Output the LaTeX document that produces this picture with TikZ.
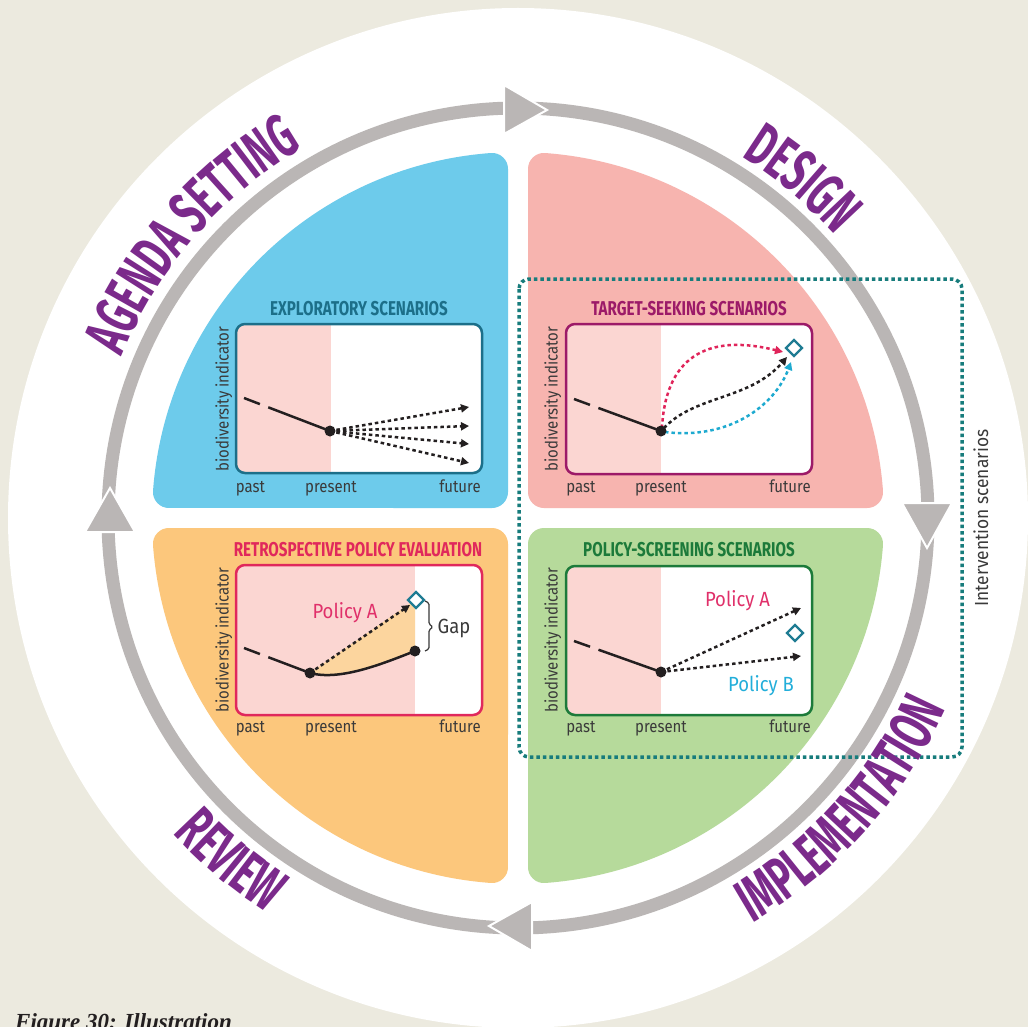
\documentclass[tikz,border=0pt]{standalone}
\usepackage{fontspec}
\usetikzlibrary{arrows.meta,decorations.text,calc}
\newfontfamily\sansreg[FakeStretch=0.88]{Fira Sans}
\newfontfamily\sanspol[FakeStretch=0.9]{Fira Sans}
\newfontfamily\sansint[FakeStretch=0.92]{Fira Sans}
\newfontfamily\sanstitle[FakeStretch=0.757]{Fira Sans}
\newfontfamily\sansbig[FakeStretch=0.6]{Fira Sans}
\newfontfamily\capserif{Liberation Serif}
\newcommand\axisf{\sansreg\fontsize{17pt}{17pt}\selectfont}
\newcommand\intf{\sansint\fontsize{18.9pt}{18.9pt}\selectfont}
\newcommand\titlef{\sanstitle\bfseries\fontsize{20pt}{20pt}\selectfont}
\newcommand\polf{\sanspol\fontsize{20.5pt}{20.5pt}\selectfont}
\newcommand\bigf{\sansbig\bfseries\fontsize{61pt}{61pt}\selectfont}
\definecolor{bgbeige}{HTML}{ECEADF}
\definecolor{qblue}{HTML}{6DCBEB}
\definecolor{qpink}{HTML}{F7B4AF}
\definecolor{qorange}{HTML}{FCC77C}
\definecolor{qgreen}{HTML}{B6DA9B}
\definecolor{pastpink}{HTML}{FBD6D2}
\definecolor{lightorange}{HTML}{FCD59E}
\definecolor{ringgray}{HTML}{BAB6B5}
\definecolor{labpurple}{HTML}{7B2A8B}
\definecolor{cexp}{HTML}{1C6F89}
\definecolor{ctarget}{HTML}{9C1A68}
\definecolor{cretro}{HTML}{E0285C}
\definecolor{cscreen}{HTML}{1C7A3A}
\definecolor{boxteal}{HTML}{177C7C}
\definecolor{diamteal}{HTML}{1F7C93}
\definecolor{polA}{HTML}{E0306A}
\definecolor{polB}{HTML}{22AEDA}
\definecolor{curvered}{HTML}{E0245A}
\definecolor{curvecyan}{HTML}{1EAAD0}
\definecolor{ink}{HTML}{231F20}
\definecolor{axisgray}{HTML}{3A3A3A}
\begin{document}
\begin{tikzpicture}[x=1pt,y=1pt,
  quad/.style={line width=32pt,line join=round},
  ringarrow/.style={fill=ringgray,draw=white,line width=2pt,line join=miter},
  chartbox/.style={rounded corners=9pt,line width=2.5pt},
  histline/.style={ink,line width=2.5pt,dash pattern=on 17pt off 9pt on 300pt off 1pt},
  dotarrow/.style={ink,line width=2.5pt,dash pattern=on 3.5pt off 3pt,-{Triangle[length=8pt,width=8pt]}},
  dotdot/.style={ink},
  diam/.style={draw=diamteal,fill=white,line width=2.3pt,line join=miter},
  axislab/.style={font=\axisf,text=axisgray,anchor=base,inner sep=0pt},
  indlab/.style={font=\axisf,text=axisgray,anchor=base,rotate=90,inner sep=0pt},
  ptitle/.style={font=\titlef,anchor=base,inner sep=0pt},
  pollab/.style={font=\polf,anchor=base,inner sep=0pt},
  biglab/.style={decorate,decoration={text along path,text={#1},text align=center,text color=labpurple}}
]
\useasboundingbox (0,0) rectangle (1028,-1027);
\fill[bgbeige] (0,0) rectangle (1028,-1027);
\coordinate (C) at (518,-518);
\fill[white] (C) circle[radius=510];

% quadrants
\filldraw[quad,fill=qblue,draw=qblue] (492,-492) -- (492,-168.97) arc[start angle=94.26,end angle=175.74,radius=350] -- cycle;
\filldraw[quad,fill=qpink,draw=qpink] (544,-492) -- (867.03,-492) arc[start angle=4.26,end angle=85.74,radius=350] -- cycle;
\filldraw[quad,fill=qorange,draw=qorange] (492,-544) -- (168.97,-544) arc[start angle=184.26,end angle=265.74,radius=350] -- cycle;
\filldraw[quad,fill=qgreen,draw=qgreen] (544,-544) -- (544,-867.03) arc[start angle=274.26,end angle=355.74,radius=350] -- cycle;

% ring and arrowheads
\draw[ringgray,line width=13pt] (C) circle[radius=410];
\draw[ringarrow] (504,-85) -- (547,-110) -- (504,-134) -- cycle;
\draw[ringarrow] (85,-532) -- (110,-488) -- (135,-532) -- cycle;
\draw[ringarrow] (902,-503) -- (927,-548) -- (952,-503) -- cycle;
\draw[ringarrow] (532,-902) -- (489,-926) -- (532,-951) -- cycle;

% ===== Exploratory =====
\fill[white,rounded corners=9pt] (236,-324) rectangle (482,-473);
\begin{scope}
\clip[rounded corners=9pt] (236,-324) rectangle (482,-473);
\fill[pastpink] (236,-324) rectangle (331,-473);
\end{scope}
\draw[chartbox,draw=cexp] (236,-324) rectangle (482,-473);
\node[ptitle,text=cexp] (t1) at (359,-315) {EXPLORATORY SCENARIOS};
\coordinate (e0) at (244,-398);
\coordinate (ed) at (330,-431);
\coordinate (ea1) at (469,-407);
\coordinate (ea2) at (469,-426);
\coordinate (ea3) at (469,-444);
\coordinate (ea4) at (469,-463);
\draw[histline] (e0) -- (ed);
\foreach \e in {ea1,ea2,ea3,ea4} \draw[dotarrow] (ed) -- (\e);
\fill[dotdot] (ed) circle[radius=5.5];
\node[indlab] (i1) at (228.5,-399) {biodiversity indicator};
\node[axislab] (p1) at (250.5,-492.7) {past};
\node[axislab] (q1) at (331,-492.7) {present};
\node[axislab] (f1) at (460,-492.7) {future};

% ===== Target-seeking =====
\fill[white,rounded corners=9pt] (566,-324) rectangle (812,-474);
\begin{scope}
\clip[rounded corners=9pt] (566,-324) rectangle (812,-474);
\fill[pastpink] (566,-324) rectangle (661,-474);
\end{scope}
\draw[chartbox,draw=ctarget] (566,-324) rectangle (812,-474);
\node[ptitle,text=ctarget] (t2) at (689,-315) {TARGET-SEEKING SCENARIOS};
\coordinate (s0) at (574,-399);
\coordinate (sd) at (661,-431);
\coordinate (sr) at (783,-352);
\coordinate (sk) at (787,-357);
\coordinate (sc) at (791,-362);
\draw[histline] (s0) -- (sd);
\draw[dotarrow,curvered,-{Triangle[length=8pt,width=8pt,fill=curvered]}] (662,-428) .. controls (666,-350) and (715,-335) .. (sr);
\draw[dotarrow,curvecyan,-{Triangle[length=8pt,width=8pt,fill=curvecyan]}] (665,-432) .. controls (730,-440) and (775,-405) .. (sc);
\draw[dotarrow] (664,-428) .. controls (695,-395) and (750,-400) .. (sk);
\fill[dotdot] (sd) circle[radius=5.5];
\draw[diam] (794,-340) -- (802,-348) -- (794,-356) -- (786,-348) -- cycle;
\node[indlab] (i2) at (557.5,-399) {biodiversity indicator};
\node[axislab] (p2) at (581,-492) {past};
\node[axislab] (q2) at (661,-492) {present};
\node[axislab] (f2) at (790,-492) {future};

% ===== Retrospective =====
\fill[white,rounded corners=9pt] (236,-565) rectangle (482,-715);
\begin{scope}
\clip[rounded corners=9pt] (236,-565) rectangle (482,-715);
\fill[pastpink] (236,-565) rectangle (415,-715);
\fill[lightorange] (310,-673) -- (415,-600) -- (415,-651) .. controls (382,-664) and (340,-681) .. (310,-673) -- cycle;
\end{scope}
\draw[chartbox,draw=cretro] (236,-565) rectangle (482,-715);
\node[ptitle,text=cretro] (t3) at (358,-556) {RETROSPECTIVE POLICY EVALUATION};
\coordinate (r0) at (244,-648);
\coordinate (rd) at (310,-673);
\coordinate (re) at (415,-651);
\coordinate (ra) at (410,-605);
\draw[histline] (r0) -- (rd);
\draw[ink,line width=2.5pt] (rd) .. controls (340,-681) and (382,-664) .. (re);
\draw[dotarrow] (rd) -- (ra);
\fill[dotdot] (rd) circle[radius=5.5];
\fill[dotdot] (re) circle[radius=5.5];
\draw[diam] (416,-592) -- (424,-600) -- (416,-608) -- (408,-600) -- cycle;
\draw[axisgray,line width=1.2pt,rounded corners=1.5pt] (425,-601) -- (429,-603) -- (429,-624) -- (433,-627) -- (429,-630) -- (429,-649) -- (425,-651);
\node[pollab,text=axisgray] (gap) at (454,-633.3) {Gap};
\node[pollab,text=polA] (pa1) at (345,-618.3) {Policy A};
\node[indlab] (i3) at (228.5,-640) {biodiversity indicator};
\node[axislab] (p3) at (250.5,-732.7) {past};
\node[axislab] (q3) at (331,-732.7) {present};
\node[axislab] (f3) at (460,-732.7) {future};

% ===== Policy-screening =====
\fill[white,rounded corners=9pt] (566,-566) rectangle (812,-715);
\begin{scope}
\clip[rounded corners=9pt] (566,-566) rectangle (812,-715);
\fill[pastpink] (566,-566) rectangle (661,-715);
\end{scope}
\draw[chartbox,draw=cscreen] (566,-566) rectangle (812,-715);
\node[ptitle,text=cscreen] (t4) at (689,-556) {POLICY-SCREENING SCENARIOS};
\coordinate (g0) at (574,-641);
\coordinate (gd) at (661,-672);
\coordinate (ga) at (801,-608);
\coordinate (gb) at (801,-656);
\draw[histline] (g0) -- (gd);
\draw[dotarrow] (gd) -- (ga);
\draw[dotarrow] (gd) -- (gb);
\fill[dotdot] (gd) circle[radius=5.5];
\draw[diam] (795,-625) -- (803,-633) -- (795,-641) -- (787,-633) -- cycle;
\node[pollab,text=polA] (pa2) at (737.5,-606) {Policy A};
\node[pollab,text=polB] (pb2) at (761,-691.7) {Policy B};
\node[indlab] (i4) at (557.5,-640) {biodiversity indicator};
\node[axislab] (p4) at (581,-732.7) {past};
\node[axislab] (q4) at (661,-732.7) {present};
\node[axislab] (f4) at (790,-732.7) {future};

% intervention box
\draw[boxteal,line width=3.5pt,dash pattern=on 3.5pt off 3pt,rounded corners=10pt] (519,-279) rectangle (962,-757);
\node[indlab,font=\intf] (iv) at (988,-518) {Intervention scenarios};

% big labels
\path[biglab={|\bigf|AGENDA SETTING}] ($(C)+(170:428)$) arc[start angle=170,end angle=108,radius=428];
\path[biglab={|\bigf|DESIGN}] ($(C)+(78:425)$) arc[start angle=78,end angle=22,radius=425];
\path[biglab={|\bigf|REVIEW}] ($(C)+(200:468)$) arc[start angle=200,end angle=260,radius=468];
\path[biglab={|\bigf|IMPLEMENTATION}] ($(C)+(290:468)$) arc[start angle=290,end angle=346,radius=468];

% caption
\node[font={\capserif\bfseries\itshape\fontsize{23pt}{23pt}\selectfont},text=ink,anchor=base west,inner sep=0pt] (cap) at (15,-1029) {Figure 30: Illustration};
\end{tikzpicture}
\end{document}
